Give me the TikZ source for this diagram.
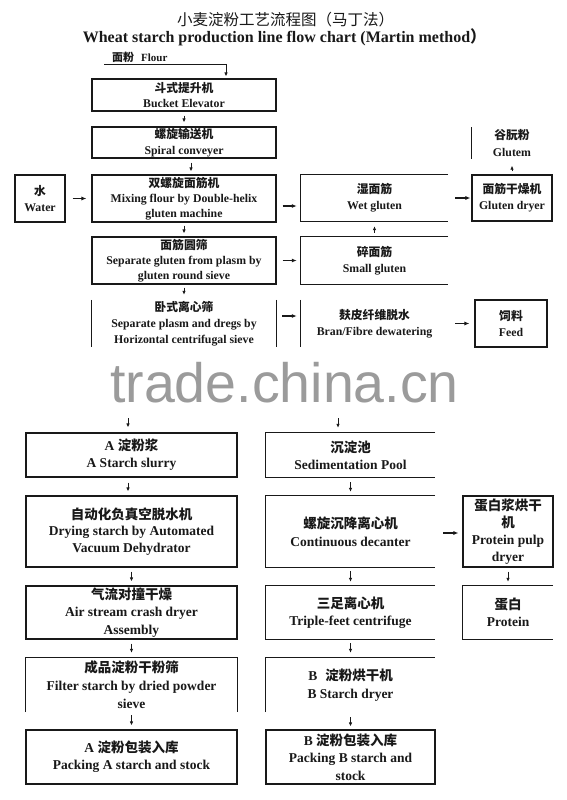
\documentclass[tikz,border=0pt]{standalone}
\usepackage{fontspec}
\setmainfont{Liberation Serif}
\newfontfamily\cjk{Noto Sans CJK SC}
\newfontfamily\wmfont{Liberation Sans}
\usetikzlibrary{arrows.meta}
\definecolor{wmgray}{RGB}{155,155,155}
\definecolor{ink}{RGB}{25,25,25}
\newcommand\fsz[2]{\bfseries\fontsize{#1}{#2}\selectfont}
\begin{document}
\begin{tikzpicture}[x=1pt,y=-1pt,
  txt/.style={inner sep=0, align=center, text=ink},
  up/.style={font=\fsz{11.8}{15.5}},
  low/.style={font=\fsz{13.5}{17}},
  box/.style={txt, draw=ink, line width=1.1pt},
  bare/.style={txt, draw=none},
  side/.style={draw=ink, line width=1.1pt},
  arr/.style={draw=ink, line width=0.8pt, -{Latex[length=4pt,width=3.5pt]}},
  harr/.style={draw=ink, line width=1.2pt, -{Latex[length=5pt,width=4pt]}},
]
\fill[white] (0,0) rectangle (567,800);
\useasboundingbox (0,0) rectangle (567,800);

% titles
\node[inner sep=0, text=ink, font=\cjk\fontsize{15.5}{16}\selectfont] (title) at (285.5,20) {小麦淀粉工艺流程图（马丁法）};
\node[inner sep=0, text=ink, font=\fsz{16}{18}] (subtitle) at (284.5,37) {Wheat starch production line flow chart (Martin method{\cjk ）}};

% flour input
\node[inner sep=0, anchor=west, text=ink, font=\fsz{11}{12}] (flour) at (112,57) {{\cjk 面粉}\hspace{7pt}Flour};
\coordinate (fl0) at (104,64);
\coordinate (fl1) at (226,64);
\draw[ink, line width=0.9pt] (fl0) -- (fl1);

% upper left column
\node[box, up, minimum width=184pt, minimum height=32pt] (bucket) at (184,95) {{\cjk 斗式提升机}\\Bucket Elevator};
\node[box, up, minimum width=184pt, minimum height=31pt] (spiral) at (184,142.5) {{\cjk 螺旋输送机}\\Spiral conveyer};
\node[box, up, font=\fsz{11.8}{15}, minimum width=184pt, minimum height=47pt] (mixing) at (184,198.5) {{\cjk 双螺旋面筋机}\\Mixing flour by Double-helix\\gluten machine};
\node[box, up, minimum width=50pt, minimum height=47pt] (water) at (40,198.5) {{\cjk 水}\\Water};
\node[box, up, font=\fsz{11.8}{15}, minimum width=184pt, minimum height=47pt] (sieve) at (184,260.5) {{\cjk 面筋圆筛}\\Separate gluten from plasm by\\gluten round sieve};
\node[bare, up, font=\fsz{11.8}{16}, minimum width=184pt, minimum height=47pt] (centri) at (184,323.5) {{\cjk 卧式离心筛}\\Separate plasm and dregs by\\Horizontal centrifugal sieve};
\draw[side] (centri.north west) -- (centri.south west) (centri.north east) -- (centri.south east);

% upper right part
\node[bare, up, font=\fsz{11.8}{16}, minimum width=147pt, minimum height=46pt] (wet) at (374.5,198) {{\cjk 湿面筋}\\Wet gluten};
\draw[side] (wet.north east) -- (wet.north west) -- (wet.south west) -- (wet.south east);
\node[box, up, font=\fsz{11.8}{16}, minimum width=80pt, minimum height=46pt] (dryer) at (512,198) {{\cjk 面筋干燥机}\\Gluten dryer};
\node[bare, up, font=\fsz{11.8}{17}, minimum width=80pt, minimum height=31pt] (glutem) at (512,143) {{\cjk 谷朊粉}\\Glutem};
\draw[side] (glutem.north west) -- (glutem.south west);
\node[bare, up, font=\fsz{11.8}{16}, minimum width=147pt, minimum height=47pt] (small) at (374.5,260.5) {{\cjk 碎面筋}\\Small gluten};
\draw[side] (small.north east) -- (small.north west) -- (small.south west) -- (small.south east);
\node[bare, up, font=\fsz{11.8}{15.5}, minimum width=147pt, minimum height=47pt] (bran) at (374.5,323.5) {{\cjk 麸皮纤维脱水}\\Bran/Fibre dewatering};
\draw[side] (bran.north west) -- (bran.south west);
\node[box, up, font=\fsz{11.8}{15.5}, minimum width=72pt, minimum height=47pt] (feed) at (511,323.5) {{\cjk 饲料}\\Feed};

% upper connectors
\draw[arr, shorten >=2pt] (fl1) -- (fl1 |- bucket.north);
\draw[arr, shorten <=4pt, shorten >=4pt] (bucket.south) -- (spiral.north);
\draw[arr, shorten <=4pt, shorten >=3pt] ([xshift=7pt]spiral.south) -- ([xshift=7pt]mixing.north);
\draw[arr, shorten <=3pt, shorten >=3pt] (mixing.south) -- (sieve.north);
\draw[arr, shorten <=3pt, shorten >=5pt] (sieve.south) -- (centri.north);
\draw[harr, shorten <=7pt, shorten >=5pt] (water.east) -- (mixing.west);
\draw[harr, shorten <=6pt, shorten >=4pt] ([yshift=-7.5pt]mixing.east) -- ([yshift=-7.5pt]mixing.east -| wet.west);
\draw[harr, shorten <=6pt, shorten >=4pt] (sieve.east) -- (small.west);
\draw[harr, shorten <=6pt, shorten >=4pt] ([yshift=7.5pt]centri.east) -- ([yshift=7.5pt]centri.east -| bran.west);
\draw[harr, shorten <=7pt, shorten >=1pt] (wet.east) -- (dryer.west);
\draw[arr, shorten <=3pt, shorten >=7pt] (dryer.north) -- (glutem.south);
\draw[arr, shorten <=4pt, shorten >=5pt] (small.north) -- (wet.south);
\draw[harr, shorten <=7pt, shorten >=5pt] (bran.east) -- (feed.west);

% watermark
\node[anchor=base west, inner sep=0, text=wmgray, font=\wmfont\fontsize{55.5}{60}\selectfont] (wm) at (110,402) {trade.china.cn};

% lower left column
\coordinate (ain) at (128,418);
\node[box, low, minimum width=211pt, minimum height=44pt] (slurry) at (131.5,455) {A {\cjk 淀粉浆}\\A Starch slurry};
\node[box, low, font=\fsz{13.5}{16.5}, minimum width=211pt, minimum height=71pt] (dehyd) at (131.5,531.5) {{\cjk 自动化负真空脱水机}\\Drying starch by Automated\\Vacuum Dehydrator};
\node[box, low, font=\fsz{13.5}{17.5}, minimum width=211pt, minimum height=53pt] (airdry) at (131.5,612.5) {{\cjk 气流对撞干燥}\\Air stream crash dryer\\Assembly};
\node[bare, low, font=\fsz{13.5}{18}, minimum width=211pt, minimum height=54pt] (filter) at (131.5,685) {{\cjk 成品淀粉干粉筛}\\Filter starch by dried powder\\sieve};
\draw[side] (filter.south west) -- (filter.north west) -- (filter.north east) -- (filter.south east);
\node[box, low, minimum width=211pt, minimum height=54pt] (packA) at (131.5,757) {A {\cjk 淀粉包装入库}\\Packing A starch and stock};

\draw[arr, shorten >=5pt] (ain) -- (ain |- slurry.north);
\draw[arr, shorten <=5pt, shorten >=4pt] ([xshift=-3.5pt]slurry.south) -- ([xshift=-3.5pt]dehyd.north);
\draw[arr, shorten <=4pt, shorten >=4pt] (dehyd.south) -- (airdry.north);
\draw[arr, shorten <=4pt, shorten >=5pt] (airdry.south) -- (filter.north);
\draw[arr, shorten <=3pt, shorten >=4pt] (filter.south) -- (packA.north);

% lower right column
\coordinate (bin) at (338,418);
\node[bare, low, minimum width=169pt, minimum height=44pt] (sed) at (350.5,455) {{\cjk 沉淀池}\\Sedimentation Pool};
\draw[side] (sed.north east) -- (sed.north west) -- (sed.south west) -- (sed.south east);
\node[bare, low, font=\fsz{13.5}{18}, minimum width=169pt, minimum height=71pt] (decanter) at (350.5,531.5) {{\cjk 螺旋沉降离心机}\\Continuous decanter};
\draw[side] (decanter.north east) -- (decanter.north west) -- (decanter.south west) -- (decanter.south east);
\node[box, low, minimum width=90pt, minimum height=71pt] (ppd) at (508,531.5) {{\cjk 蛋白浆烘干}\\{\cjk 机}\\Protein pulp\\dryer};
\node[bare, low, minimum width=90pt, minimum height=53pt] (protein) at (508,612.5) {{\cjk 蛋白}\\Protein};
\draw[side] (protein.north east) -- (protein.north west) -- (protein.south west) -- (protein.south east);
\node[bare, low, minimum width=169pt, minimum height=53pt] (triple) at (350.5,612.5) {{\cjk 三足离心机}\\Triple-feet centrifuge};
\draw[side] (triple.north east) -- (triple.north west) -- (triple.south west) -- (triple.south east);
\node[bare, low, font=\fsz{13.5}{18}, minimum width=169pt, minimum height=54pt] (bdry) at (350.5,685) {B\hspace{8pt}{\cjk 淀粉烘干机}\\B Starch dryer};
\draw[side] (bdry.south west) -- (bdry.north west) -- (bdry.north east);
\node[box, low, font=\fsz{13.5}{17.5}, minimum width=169pt, minimum height=54pt] (packB) at (350.5,757) {B {\cjk 淀粉包装入库}\\Packing B starch and\\stock};

\draw[arr, shorten >=5pt] (bin) -- (bin |- sed.north);
\draw[arr, shorten <=5pt, shorten >=4pt] (sed.south) -- (decanter.north);
\draw[harr, shorten <=8pt, shorten >=4pt] ([yshift=-1.5pt]decanter.east) -- ([yshift=-1.5pt]decanter.east -| ppd.west);
\draw[arr, shorten <=4pt, shorten >=4pt] (ppd.south) -- (protein.north);
\draw[arr, shorten <=4pt, shorten >=4pt] (decanter.south) -- (triple.north);
\draw[arr, shorten <=4pt, shorten >=5pt] (triple.south) -- (bdry.north);
\draw[arr, shorten <=5pt, shorten >=3pt] (bdry.south) -- (packB.north);
\end{tikzpicture}
\end{document}
